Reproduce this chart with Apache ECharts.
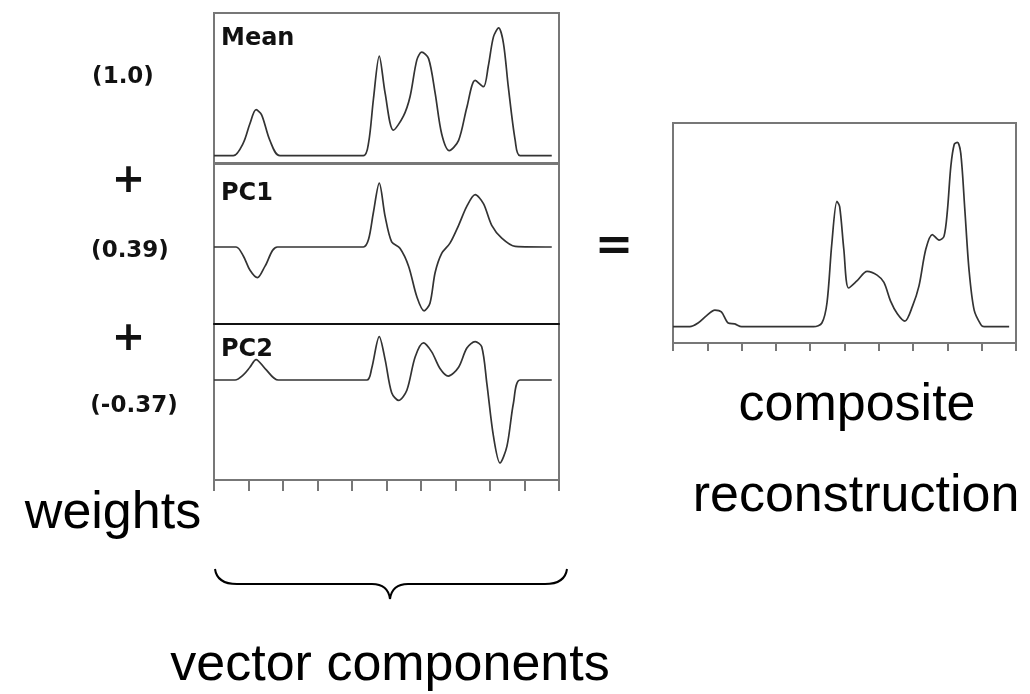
<!DOCTYPE html>
<html>
<head>
<meta charset="utf-8">
<script src="https://cdn.jsdelivr.net/npm/echarts@6/dist/echarts.min.js"></script>
<style>
  html, body { margin: 0; padding: 0; background: #fff; }
  #wrap { position: relative; width: 1030px; height: 694px; }
  #panels, #captions { position: absolute; left: 0; top: 0; width: 1030px; height: 694px; }
  #panels { filter: blur(0.5px); }
</style>
</head>
<body>
<div id="wrap">
  <div id="panels"></div>
  <div id="captions"></div>
</div>
<script>
// Spectral profiles as [position, intensity] pairs on a 0..100 axis
const meanSpectrum = [
  [0, 0], [5.6, 0], [8.5, 0.10], [10.4, 0.25], [12.2, 0.36], [13.8, 0.32], [16.2, 0.12], [19.1, 0],
  [43.3, 0], [44.8, 0.10], [46.2, 0.44], [47.9, 0.78], [49.6, 0.49], [52.0, 0.20], [54.9, 0.31],
  [56.8, 0.46], [58.8, 0.75], [60.2, 0.81], [62.2, 0.76], [64.1, 0.49], [66.0, 0.17], [68.2, 0.04],
  [70.9, 0.12], [73.3, 0.38], [75.7, 0.59], [78.1, 0.54], [79.5, 0.70], [81.0, 0.93], [82.5, 1.0],
  [83.9, 0.88], [85.3, 0.54], [87.3, 0.12], [88.7, 0], [97.9, 0]
];
const pc1Spectrum = [
  [0, 0], [6.4, 0], [8.5, -0.07], [10.4, -0.18], [12.6, -0.24], [14.8, -0.15], [18.4, 0],
  [43.3, 0], [44.8, 0.06], [46.2, 0.27], [47.9, 0.50], [49.6, 0.24], [51.5, 0.04], [53.9, -0.01],
  [56.4, -0.15], [58.8, -0.39], [60.9, -0.50], [62.6, -0.44], [64.1, -0.20], [66.0, -0.05],
  [68.4, 0.03], [70.9, 0.17], [73.3, 0.32], [75.7, 0.41], [78.1, 0.34], [80.5, 0.17], [83.4, 0.07],
  [87.3, 0.005], [97.9, 0]
];
const pc2Spectrum = [
  [0, 0], [6.1, 0], [8.5, 0.04], [10.4, 0.10], [12.2, 0.16], [14.8, 0.09], [18.6, 0],
  [44.3, 0], [45.7, 0.09], [47.9, 0.34], [49.6, 0.16], [51.5, -0.10], [53.5, -0.16], [55.9, -0.08],
  [58.3, 0.18], [60.7, 0.29], [63.1, 0.22], [65.5, 0.09], [67.9, 0.03], [70.9, 0.10], [73.3, 0.25],
  [75.7, 0.30], [77.6, 0.26], [79.1, -0.03], [81.0, -0.44], [82.9, -0.65], [84.9, -0.52],
  [86.8, -0.18], [88.7, 0], [97.9, 0]
];
const compositeSpectrum = [
  [0, 0], [4.9, 0], [7.3, 0.02], [9.8, 0.06], [12.2, 0.09], [14.1, 0.08], [16.1, 0.02], [18.0, 0.015],
  [20.0, 0], [41.0, 0], [43.4, 0.02], [44.9, 0.13], [46.3, 0.45], [47.8, 0.68], [48.6, 0.65],
  [49.8, 0.42], [51.2, 0.21], [53.7, 0.25], [56.6, 0.30], [59.5, 0.28], [61.5, 0.24], [63.4, 0.14],
  [65.4, 0.07], [67.6, 0.03], [69.8, 0.11], [71.7, 0.22], [73.7, 0.42], [75.6, 0.50], [77.6, 0.47],
  [79.0, 0.49], [80.0, 0.63], [81.0, 0.87], [82.0, 0.99], [82.9, 1.0], [83.9, 0.94], [85.1, 0.63],
  [86.3, 0.31], [87.8, 0.09], [89.8, 0.01], [90.7, 0], [98.0, 0]
];
const componentNames = ['Mean', 'PC1', 'PC2'];
const weightLabels = ['(1.0)', '(0.39)', '(-0.37)'];

// Panel frames: three stacked component panels and the reconstruction panel
const panels = [
  { left: 214, top: 13, width: 345, height: 150, ymin: -0.057, ymax: 1.117 },
  { left: 214, top: 164, width: 345, height: 160, ymin: -0.603, ymax: 0.650 },
  { left: 214, top: 324, width: 345, height: 156, ymin: -0.783, ymax: 0.4385 },
  { left: 673, top: 123, width: 343, height: 220, ymin: -0.0884, ymax: 1.105 }
];
const seriesData = [meanSpectrum, pc1Spectrum, pc2Spectrum, compositeSpectrum];

const frameColor = '#777';
const curveColor = '#333';

const grid = panels.map(p => ({
  left: p.left, top: p.top, width: p.width, height: p.height,
  show: true, borderColor: frameColor, borderWidth: 2, backgroundColor: 'transparent'
}));

const xAxis = panels.map((p, i) => ({
  gridIndex: i, type: 'value', min: 0, max: 100, interval: 10,
  axisLabel: { show: false }, splitLine: { show: false },
  axisTick: { show: i >= 2, length: i === 3 ? 8 : 11, lineStyle: { color: frameColor, width: 2 } },
  axisLine: { show: i >= 1, onZero: false, lineStyle: { color: i === 1 ? '#111' : frameColor, width: 2 } }
}));

const yAxis = panels.map((p, i) => ({
  gridIndex: i, type: 'value', min: p.ymin, max: p.ymax, show: false
}));

const series = seriesData.map((d, i) => ({
  type: 'line', xAxisIndex: i, yAxisIndex: i, data: d,
  showSymbol: false, smooth: 0.3, silent: true,
  lineStyle: { color: curveColor, width: 1.7 }
}));

const boldFont = '"DejaVu Sans", sans-serif';
const bigFont = '"Liberation Sans", Arial, sans-serif';

function txt(text, x, y, opts) {
  return {
    type: 'text', x: x, y: y, silent: true,
    style: Object.assign({
      text: text, fill: '#111', textAlign: 'left', textVerticalAlign: 'middle'
    }, opts)
  };
}

// Panel names, weights and operators (drawn with the panels)
const nameY = [39, 194, 350];
const weightPos = [[123, 77], [130, 251], [134, 406]];

const panelGraphic = [];
componentNames.forEach((n, i) => {
  panelGraphic.push(txt(n, 221, nameY[i], { font: 'bold 24px ' + boldFont }));
});
weightLabels.forEach((w, i) => {
  panelGraphic.push(txt(w, weightPos[i][0], weightPos[i][1], { font: 'bold 23px ' + boldFont, textAlign: 'center' }));
});
panelGraphic.push(txt('+', 128.5, 182, { font: 'bold 40px ' + boldFont, textAlign: 'center' }));
panelGraphic.push(txt('+', 128.5, 340, { font: 'bold 40px ' + boldFont, textAlign: 'center' }));
panelGraphic.push(txt('=', 614, 248, { font: 'bold 46px ' + boldFont, textAlign: 'center' }));

const panelChart = echarts.init(document.getElementById('panels'), null, { renderer: 'canvas' });
panelChart.setOption({
  animation: false,
  backgroundColor: '#fff',
  grid: grid, xAxis: xAxis, yAxis: yAxis, series: series, graphic: panelGraphic
});

// Captions and the curly brace under the component panels
const captionGraphic = [];
captionGraphic.push(txt('weights', 113, 514, { font: '52px ' + bigFont, textAlign: 'center', fill: '#000' }));
captionGraphic.push(txt('composite', 857, 406, { font: '52px ' + bigFont, textAlign: 'center', fill: '#000' }));
captionGraphic.push(txt('reconstruction', 856, 497, { font: '52px ' + bigFont, textAlign: 'center', fill: '#000' }));
captionGraphic.push(txt('vector components', 390, 666, { font: '52px ' + bigFont, textAlign: 'center', fill: '#000' }));

const braceStyle = { stroke: '#000', lineWidth: 2, fill: null };
function curve(x1, y1, cx, cy, x2, y2) {
  return { type: 'bezierCurve', silent: true,
    shape: { x1: x1, y1: y1, cpx1: cx, cpy1: cy, x2: x2, y2: y2 }, style: braceStyle };
}
function seg(x1, y1, x2, y2) {
  return { type: 'line', silent: true, shape: { x1: x1, y1: y1, x2: x2, y2: y2 }, style: braceStyle };
}
captionGraphic.push(curve(215, 569, 217, 584, 237, 584));
captionGraphic.push(seg(237, 584, 372, 584));
captionGraphic.push(curve(372, 584, 388, 584, 390, 599));
captionGraphic.push(curve(390, 599, 392, 584, 408, 584));
captionGraphic.push(seg(408, 584, 545, 584));
captionGraphic.push(curve(545, 584, 565, 584, 567, 569));

const captionChart = echarts.init(document.getElementById('captions'), null, { renderer: 'canvas' });
captionChart.setOption({
  animation: false,
  graphic: captionGraphic
});
</script>
</body>
</html>
